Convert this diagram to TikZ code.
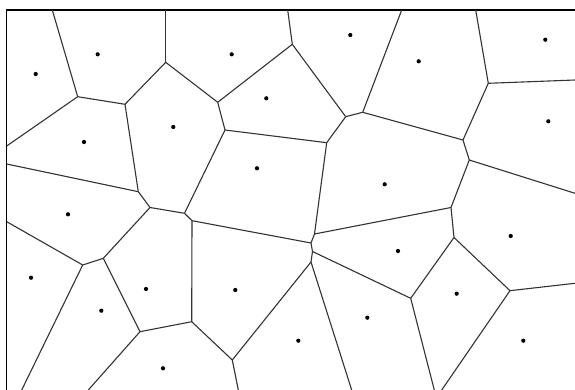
\documentclass[tikz,border=0pt]{standalone}
\usepackage{tikz}

\begin{document}
\begin{tikzpicture}[x=0.5pt, y=-0.5pt,
    cell/.style={draw=black!80, line width=0.55pt},
    site/.style={circle, fill=black, inner sep=0.75pt}]
        \useasboundingbox (0,0) rectangle (575,390);
        \fill[white] (0,0) rectangle (575,390);
        \draw[black, line width=0.6pt] (6.7,390) -- (6.7,10) -- (575,10);

        % Voronoi vertices
        \coordinate (v1) at (77.7,96.7);
        \coordinate (v2) at (125,104.3);
        \coordinate (v3) at (165.7,62.3);
        \coordinate (v4) at (217.7,102.3);
        \coordinate (v5) at (150,207.5);
        \coordinate (v6) at (138.3,191.7);
        \coordinate (v7) at (225,130);
        \coordinate (v8) at (292.3,44.3);
        \coordinate (v9) at (345.7,116.7);
        \coordinate (v10) at (326.7,142.7);
        \coordinate (v11) at (362.7,112.3);
        \coordinate (v12) at (488.3,83.3);
        \coordinate (v13) at (463,140);
        \coordinate (v14) at (469.3,160);
        \coordinate (v15) at (184.5,213.3);
        \coordinate (v16) at (192,220.7);
        \coordinate (v17) at (314.5,234);
        \coordinate (v18) at (191.7,321.7);
        \coordinate (v19) at (103.3,258.3);
        \coordinate (v20) at (82.7,265);
        \coordinate (v21) at (140,331.7);
        \coordinate (v22) at (232.3,360);
        \coordinate (v23) at (311,243);
        \coordinate (v24) at (451,207.5);
        \coordinate (v25) at (454,237.5);
        \coordinate (v26) at (410.7,298.3);
        \coordinate (v27) at (510,290.7);
        \coordinate (v28) at (312.5,251.5);
        \coordinate (v29) at (311,262);

        % open ends on the border
        \coordinate (t1) at (52.3,10);
        \coordinate (t2) at (165.7,10);
        \coordinate (t3) at (287.7,10);
        \coordinate (t4) at (401.7,10);
        \coordinate (t5) at (475.7,10);
        \coordinate (l1) at (6.7,146);
        \coordinate (l2) at (6.7,164);
        \coordinate (l3) at (6.7,221.7);
        \coordinate (r1) at (575,80);
        \coordinate (r2) at (575,193.3);
        \coordinate (r3) at (575,283.3);
        \coordinate (d1) at (21.7,390);
        \coordinate (d2) at (88.3,390);
        \coordinate (d3) at (238.3,390);
        \coordinate (d4) at (351.7,390);
        \coordinate (d5) at (434.3,390);
        \coordinate (d6) at (441.7,390);

        \foreach \a/\b in {v1/t1, v1/l1, v1/v2, v2/v3, v3/t2, v3/v4, v2/v6, v6/l2,
            v6/v5, v5/v15, v5/v19, v19/v20, v20/l3, v20/d1, v19/v21, v21/d2,
            v21/v18, v18/v16, v18/v22, v22/d3, v22/v29, v29/d4, v29/v28, v28/v26,
            v28/v23, v23/v16, v23/v17, v16/v15, v15/v7, v7/v4, v4/v8, v8/t3,
            v8/v9, v9/v10, v7/v10, v9/v11, v11/t4, v11/v13, v10/v17, v17/v24,
            v13/v12, v12/t5, v12/r1, v13/v14, v14/r2, v14/v24, v24/v25, v25/v26,
            v25/v27, v27/r3, v27/d6, v26/d5} {
          \draw[cell] (\a) -- (\b);
        }

        % sites
        \foreach \x/\y [count=\i] in {35.7/74, 97.7/54.3, 231.7/54.3, 350.3/35,
            418.7/61.3, 545.3/39.7, 266.3/98.3, 84/142, 173.3/127, 548.3/121.3,
            257/168.3, 384.7/184.3, 68/214.3, 510.7/236, 31/277.7, 101.3/310.7,
            146/289, 235.3/290, 398/251, 456.7/293.7, 298.3/340.7, 367.3/317.7,
            523.3/340.7, 163/368.3} {
          \node[site] (s\i) at (\x,\y) {};
        }
\end{tikzpicture}
\end{document}
